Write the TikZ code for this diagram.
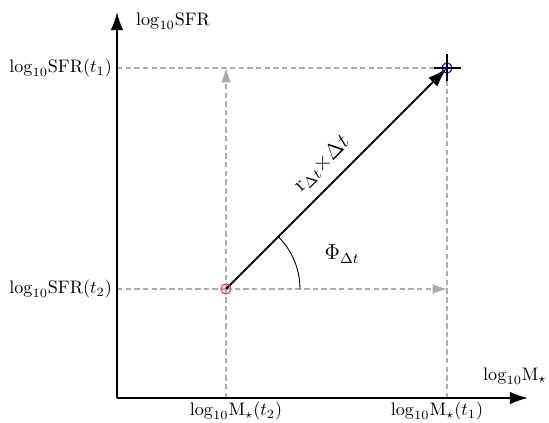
\documentclass[tikz,border=0pt]{standalone}
\usepackage{amsmath,amssymb}
\usepackage{tikz}
\usetikzlibrary{arrows.meta, calc, positioning}
\newcommand{\lgt}{\mathrm{log}_{10}}

\begin{document}
\begin{tikzpicture}[
    x=0.553pt, y=-0.553pt,
    axis/.style={-{Latex[length=10pt, width=7pt]}, line width=1.1pt, black},
    guide/.style={gray!65, line width=0.6pt, dash pattern=on 3pt off 1.8pt},
    guidearrow/.style={guide, -{Latex[length=8pt, width=5.5pt]}, gray!65},
    track/.style={-{Latex[length=11pt, width=7pt]}, line width=1pt, black},
    marker/.style={circle, draw, line width=0.6pt, minimum size=5.6pt, inner sep=0pt},
    ticklabel/.style={font=\normalsize, inner sep=1pt},
  ]
    \useasboundingbox (0,0) rectangle (549,423);

    % --- Points ---
    \coordinate (O)     at (117,398);
    \coordinate (ytop)  at (117,12);
    \coordinate (xend)  at (528,398);
    \coordinate (P2)    at (226,289);
    \coordinate (P1)    at (447,68);
    \coordinate (Y1)    at (117,68);
    \coordinate (Y2)    at (117,289);
    \coordinate (X1)    at (447,398);
    \coordinate (X2)    at (226,398);
    \coordinate (P2up)  at (226,68);
    \coordinate (P2rt)  at (447,289);

    % --- Guide lines ---
    \draw[guide] (Y1) -- (P1);
    \draw[guide] (X1) -- (P1);
    \draw[guide] (X2) -- (P2);
    \draw[guide] (Y2) -- (P2);
    \draw[guidearrow] (P2) -- (P2up);
    \draw[guidearrow] (P2) -- (P2rt);

    % --- Axes ---
    \draw[axis] (O) -- (ytop);
    \draw[axis] (O) -- (xend);

    % --- Axis labels ---
    \node[ticklabel, anchor=west] (ylab) at (134,21) {$\lgt\mathrm{SFR}$};
    \node[ticklabel] (xlab) at (515,376) {$\lgt\mathrm{M}_\star$};
    \node[ticklabel, anchor=east] (y1lab) at (114,68) {$\lgt\mathrm{SFR}(t_1)$};
    \node[ticklabel, anchor=east] (y2lab) at (114,289) {$\lgt\mathrm{SFR}(t_2)$};
    \node[ticklabel] (x2lab) at (236,411) {$\lgt\mathrm{M}_\star(t_2)$};
    \node[ticklabel] (x1lab) at (437,411) {$\lgt\mathrm{M}_\star(t_1)$};

    % --- Angle ---
    \draw[line width=0.5pt] ($(P2)+(74,0)$) arc[start angle=0, end angle=-45, radius=74];
    \node[font=\large] (phi) at (342,254) {$\Phi_{\Delta t}$};

    % --- Evolution vector ---
    \draw[track] (P2) -- (P1)
      node[pos=0.5, sloped, above, font=\large, inner sep=6pt] (rate) {$\mathrm{r}_{\Delta t}{\times}\Delta t$};

    % --- Markers ---
    \node[marker, draw=red!80] (start) at (P2) {};
    \node[marker, draw=blue] (end) at (P1) {};
    \draw[line width=0.9pt] ($(P1)+(-13,0)$) -- ($(P1)+(14,0)$);
    \draw[line width=0.9pt] ($(P1)+(0,-14)$) -- ($(P1)+(0,13)$);
\end{tikzpicture}
\end{document}
